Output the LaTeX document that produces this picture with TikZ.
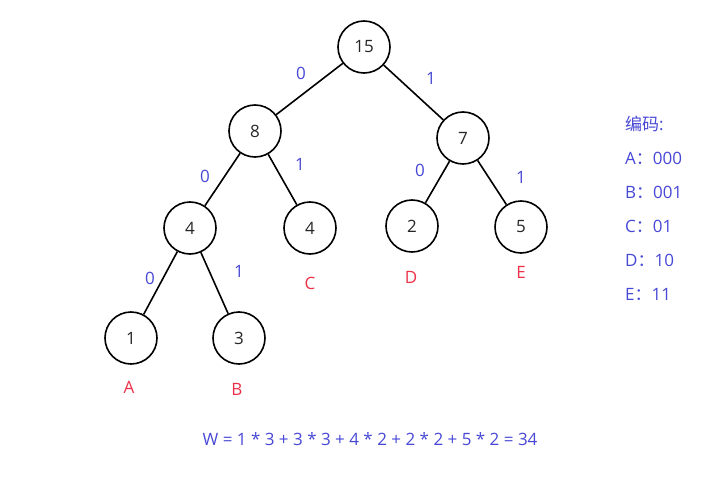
\documentclass[tikz,border=0pt]{standalone}
\usepackage{fontspec}
\setmainfont{Open Sans}
\newfontfamily\cjk{Noto Sans CJK SC}
\definecolor{lblue}{RGB}{72,72,214}
\definecolor{lred}{RGB}{236,48,72}
\begin{document}
\begin{tikzpicture}[x=1pt,y=-1pt,
  tn/.style={circle,draw=black,line width=1.6pt,minimum size=52pt,inner sep=0pt,font=\fontsize{17}{20}\selectfont,text=black!85},
  bl/.style={text=lblue,font=\fontsize{17}{20}\selectfont,inner sep=0pt},
  rl/.style={text=lred,font=\fontsize{17}{20}\selectfont,inner sep=0pt},
  lg/.style={text=lblue,font=\fontsize{17}{20}\selectfont,inner sep=0pt,anchor=west},
  ed/.style={line width=1.6pt,black}]
\useasboundingbox (0,0) rectangle (721,479);
\node[tn] (n15) at (364,47) {15};
\node[tn] (n8) at (255,131) {8};
\node[tn] (n7) at (463,138) {7};
\node[tn] (n4a) at (190,228) {4};
\node[tn] (n4c) at (310,228) {4};
\node[tn] (n2) at (412,226) {2};
\node[tn] (n5) at (521,227) {5};
\node[tn] (n1) at (131,338) {1};
\node[tn] (n3) at (239,338) {3};
\draw[ed] (n15) -- (n8);
\draw[ed] (n15) -- (n7);
\draw[ed] (n8) -- (n4a);
\draw[ed] (n8) -- (n4c);
\draw[ed] (n7) -- (n2);
\draw[ed] (n7) -- (n5);
\draw[ed] (n4a) -- (n1);
\draw[ed] (n4a) -- (n3);
\node[bl] (e1) at (301,73) {0};
\node[bl] (e2) at (431,78) {1};
\node[bl] (e3) at (205,176) {0};
\node[bl] (e4) at (300,164) {1};
\node[bl] (e5) at (420,170) {0};
\node[bl] (e6) at (521,177) {1};
\node[bl] (e7) at (150,278) {0};
\node[bl] (e8) at (239,271) {1};
\node[rl] (lc) at (310,283) {C};
\node[rl] (ld) at (411,277) {D};
\node[rl] (le) at (521,272) {E};
\node[rl] (la) at (129,387) {A};
\node[rl] (lb) at (237,389) {B};
\node[lg] (g0) at (625,124) {{\cjk 编码}:};
\node[lg] (g1) at (625,158) {A{\cjk ：}000};
\node[lg] (g2) at (625,192) {B{\cjk ：}001};
\node[lg] (g3) at (625,226) {C{\cjk ：}01};
\node[lg] (g4) at (625,260) {D{\cjk ：}10};
\node[lg] (g5) at (625,294) {E{\cjk ：}11};
\node[bl] (w) at (370,439) {W = 1 * 3 + 3 * 3 + 4 * 2 + 2 * 2 + 5 * 2 = 34};
\end{tikzpicture}
\end{document}
